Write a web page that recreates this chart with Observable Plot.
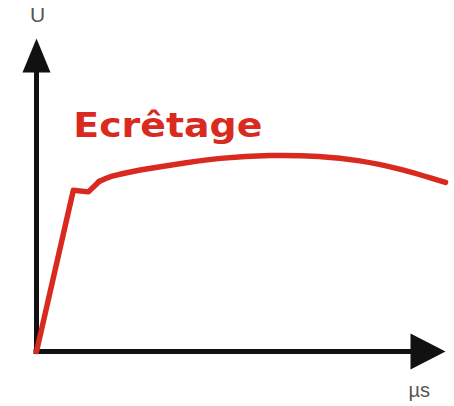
<!DOCTYPE html>
<html>
<head>
<meta charset="utf-8">
<script src="https://cdn.jsdelivr.net/npm/d3@7"></script>
<script src="https://cdn.jsdelivr.net/npm/@observablehq/plot@0.6"></script>
<style>
  html, body { margin: 0; padding: 0; background: #fff; }
  #chart svg { display: block; }
</style>
</head>
<body>
<div id="chart"></div>
<script>
// Data (time in % of axis length, voltage in % of axis height)
const riseT = [0, 9.0, 12.7, 15.3];
const riseU = [0, 51.5, 51.0, 54.3];
const plateauT = [15.3, 18.5, 25, 35, 45, 57, 69, 79, 89, 100];
const plateauU = [54.3, 56.0, 57.9, 60.0, 61.7, 62.6, 62.3, 60.9, 58.2, 54.0];
const axisLabels = ["U", "µs"];
const title = "Ecrêtage";

const rise = riseT.map((t, i) => ({t, u: riseU[i]}));
const plateau = plateauT.map((t, i) => ({t, u: plateauU[i]}));

const red = "#d92a1f";

const arrowUp = {draw(ctx) { ctx.moveTo(0, 0); ctx.lineTo(-14, 34); ctx.lineTo(14, 34); ctx.closePath(); }};
const arrowRight = {draw(ctx) { ctx.moveTo(0, 0); ctx.lineTo(-35, -18); ctx.lineTo(-35, 18); ctx.closePath(); }};

const chart = Plot.plot({
  width: 454,
  height: 406,
  marginLeft: 36,
  marginRight: 9,
  marginTop: 38,
  marginBottom: 55,
  x: {domain: [0, 100], axis: null},
  y: {domain: [0, 100], axis: null},
  style: {background: "#fff", overflow: "visible"},
  marks: [
    Plot.ruleX([0], {y1: 0, y2: 92, stroke: "#111", strokeWidth: 5, strokeLinecap: "square"}),
    Plot.ruleY([0], {x1: 0, x2: 94, stroke: "#111", strokeWidth: 5, strokeLinecap: "square"}),
    Plot.dot([{t: 0, u: 100}], {x: "t", y: "u", symbol: arrowUp, fill: "#111", stroke: null, r: 5}),
    Plot.dot([{t: 100, u: 0}], {x: "t", y: "u", symbol: arrowRight, fill: "#111", stroke: null, r: 5}),
    Plot.line(rise, {x: "t", y: "u", stroke: red, strokeWidth: 5.5, strokeLinejoin: "round", strokeLinecap: "round"}),
    Plot.line(plateau, {x: "t", y: "u", stroke: red, strokeWidth: 5.5, curve: "catmull-rom", strokeLinejoin: "round", strokeLinecap: "round"}),
    Plot.text([axisLabels[0]], {x: 0, y: 100, dy: -23, dx: 1, text: d => d, fill: "#555", fontSize: 21, fontFamily: "Liberation Sans, Arial, sans-serif", textAnchor: "middle", lineAnchor: "middle"}),
    Plot.text([axisLabels[1]], {x: 93.6, y: 0, dy: 39.5, text: d => d, fill: "#555", fontSize: 20, fontFamily: "Liberation Sans, Arial, sans-serif", textAnchor: "middle", lineAnchor: "middle"}),
    Plot.text([title], {x: 9.0, y: 68.4, text: d => d, fill: red, fontSize: 34, fontWeight: "bold", fontFamily: "DejaVu Sans, sans-serif", textAnchor: "start", lineAnchor: "bottom", className: "big-title"})
  ]
});

d3.select(chart).selectAll(".big-title text").attr("textLength", 189).attr("lengthAdjust", "spacingAndGlyphs");
document.getElementById("chart").append(chart);
</script>
</body>
</html>
